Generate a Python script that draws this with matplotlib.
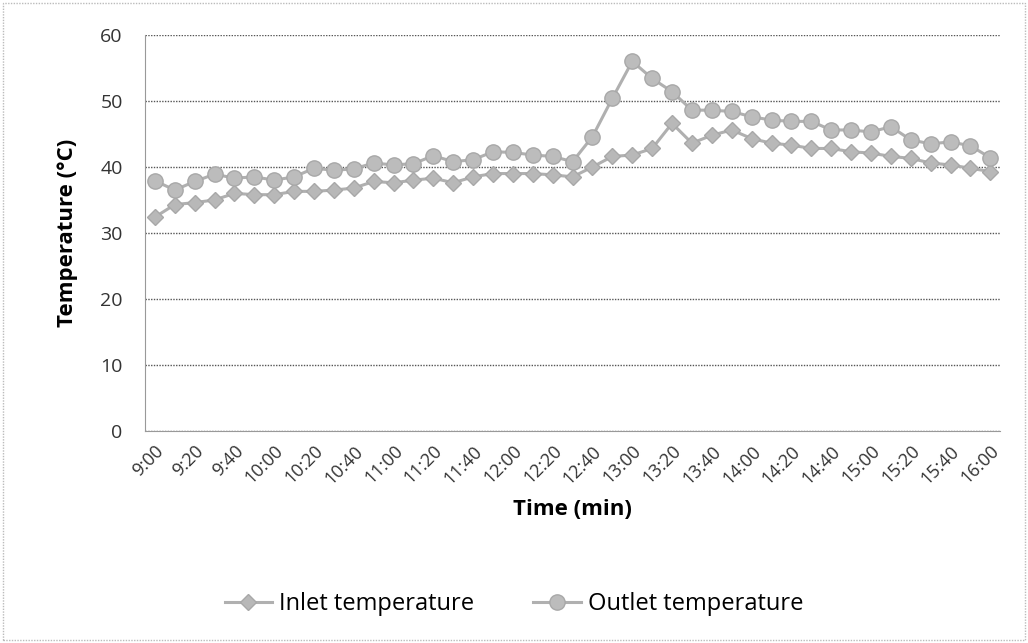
import matplotlib.pyplot as plt
import numpy as np
from matplotlib.patches import Rectangle

# readings every 10 minutes from 9:00 to 16:00
times = []
for h in range(9, 17):
    for m in range(0, 60, 10):
        if h == 16 and m > 0:
            break
        times.append("%d:%02d" % (h, m))

inlet = [32.4, 34.3, 34.6, 35.0, 36.0, 35.8, 35.8, 36.3, 36.3, 36.5, 36.8,
         37.8, 37.6, 38.0, 38.3, 37.6, 38.5, 39.0, 39.0, 39.0, 38.8, 38.5,
         40.0, 41.6, 41.8, 42.8, 46.6, 43.6, 44.8, 45.6, 44.3, 43.6, 43.3,
         42.8, 42.8, 42.3, 42.1, 41.6, 41.3, 40.6, 40.3, 39.8, 39.3]
outlet = [37.9, 36.5, 37.8, 38.9, 38.3, 38.5, 38.0, 38.5, 39.8, 39.5, 39.7,
          40.6, 40.3, 40.5, 41.7, 40.8, 41.1, 42.3, 42.2, 41.8, 41.6, 40.8,
          44.6, 50.4, 56.0, 53.4, 51.4, 48.6, 48.6, 48.4, 47.6, 47.1, 46.9,
          46.9, 45.6, 45.6, 45.3, 46.1, 44.1, 43.5, 43.8, 43.2, 41.4]

plt.rcParams['font.family'] = ['Open Sans', 'DejaVu Sans']

fig = plt.figure(figsize=(10.28, 6.43), dpi=100)
ax = fig.add_axes([0.141, 0.3297, 0.832, 0.616])

x = np.arange(len(times))
grey = '#b0b0b0'
ax.plot(x, inlet, color=grey, lw=2.2, marker='D', ms=8, mfc='#b8b8b8',
        mec='#a8a8a8', label='Inlet temperature', zorder=3)
ax.plot(x, outlet, color=grey, lw=2.2, marker='o', ms=11, mfc='#bcbcbc',
        mec='#a8a8a8', label='Outlet temperature', zorder=3)

ax.set_xlim(-0.5, len(times) - 0.5)
ax.set_ylim(0, 60)
ax.set_yticks(range(0, 61, 10))
ax.yaxis.grid(True, linestyle=(0, (1, 1)), color='#555555', lw=1)
ax.set_axisbelow(True)

ax.set_xticks(x[::2])
ax.set_xticklabels(times[::2], rotation=45, ha='right', rotation_mode='anchor',
                   fontsize=13, color='#333333')
ax.tick_params(axis='y', labelsize=14, colors='#333333', length=0, pad=16)
ax.tick_params(axis='x', length=0, pad=8)

for side in ['top', 'right']:
    ax.spines[side].set_visible(False)
ax.spines['left'].set_linestyle((0, (1, 1)))
ax.spines['left'].set_color('#999999')
ax.spines['bottom'].set_color('#999999')

ax.set_ylabel('Temperature (°C)', fontsize=16, fontweight='bold', labelpad=16)
ax.set_xlabel('Time (min)', fontsize=16, fontweight='bold', labelpad=8)

fig.legend(loc='center', bbox_to_anchor=(0.5, 0.06), ncol=2, frameon=False,
           fontsize=17, handlelength=2.0, columnspacing=2.5, handletextpad=0.3)

# light dotted border around the whole chart area
fig.patches.append(Rectangle((0.003, 0.005), 0.994, 0.99, transform=fig.transFigure,
                             fill=False, ec='#bbbbbb', lw=1, ls=(0, (1, 1))))

plt.savefig('out.png', dpi=100)
